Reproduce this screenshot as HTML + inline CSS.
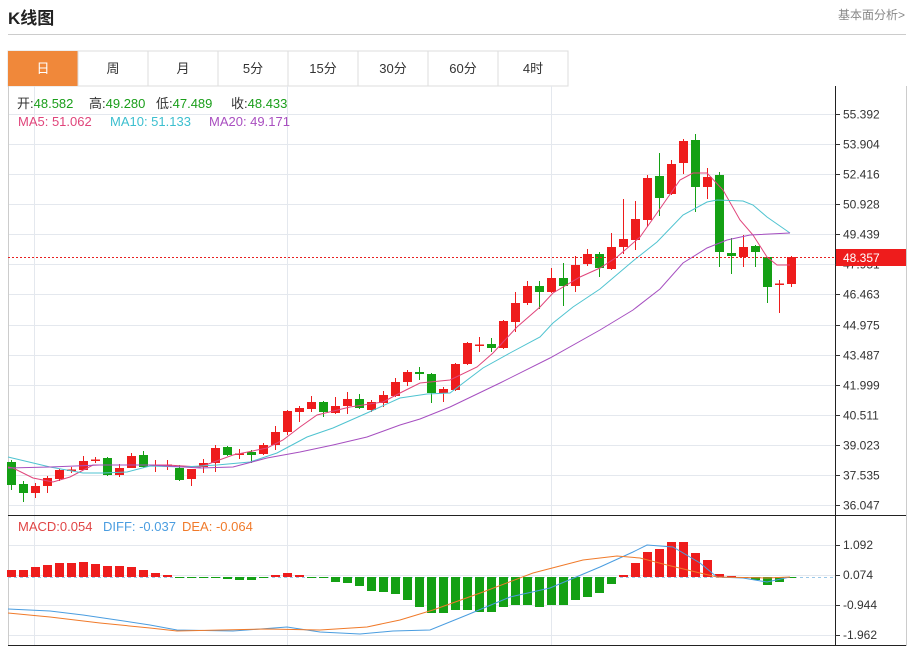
<!DOCTYPE html>
<html><head><meta charset="utf-8"><style>
body{margin:0;width:912px;height:649px;background:#fff;font-family:"Liberation Sans","Noto Sans CJK SC",sans-serif;overflow:hidden;position:relative}
.t{position:absolute;white-space:nowrap}
</style></head><body>
<div class="t" style="left:8px;top:4px;font-size:17px;font-weight:bold;color:#222">K线图</div>
<div class="t" style="left:838px;top:6px;font-size:12px;color:#888">基本面分析&gt;</div>
<div style="position:absolute;left:8px;top:34px;width:898px;height:1px;background:#ccc"></div>
<svg width="912" height="649" style="position:absolute;left:0;top:0" id="s" font-family="Liberation Sans, Noto Sans CJK SC, sans-serif">
<rect x="8" y="51" width="560" height="35" fill="#fff" stroke="#ddd"/>
<rect x="8" y="51" width="70" height="35" fill="#f0883a"/>
<g stroke="#ddd"><line x1="78" y1="51" x2="78" y2="86"/><line x1="148" y1="51" x2="148" y2="86"/><line x1="218" y1="51" x2="218" y2="86"/><line x1="288" y1="51" x2="288" y2="86"/><line x1="358" y1="51" x2="358" y2="86"/><line x1="428" y1="51" x2="428" y2="86"/><line x1="498" y1="51" x2="498" y2="86"/><line x1="568" y1="51" x2="568" y2="86"/></g>
<g font-size="13" text-anchor="middle" fill="#333"><text x="43" y="73" fill="#fff">日</text><text x="113" y="73">周</text><text x="183" y="73">月</text><text x="253" y="73">5分</text><text x="323" y="73">15分</text><text x="393" y="73">30分</text><text x="463" y="73">60分</text><text x="533" y="73">4时</text></g>
<g stroke="#e4e8ee" stroke-width="1" id="grid"></g>
<line x1="8.5" y1="86" x2="8.5" y2="646" stroke="#ccc"/>
<line x1="906.5" y1="86" x2="906.5" y2="646" stroke="#ccc"/>
<line x1="835.5" y1="86" x2="835.5" y2="646" stroke="#222"/>
<line x1="8" y1="515.5" x2="906" y2="515.5" stroke="#222"/>
<line x1="8" y1="645.5" x2="906" y2="645.5" stroke="#222"/>
<line x1="8" y1="577.5" x2="835" y2="577.5" stroke="#9cc8e8" stroke-dasharray="3,3"/>
<g id="bars"></g>
<g id="cand"></g>
<polyline fill="none" stroke="#e0457b" stroke-width="1" points="8,467 13,468 33,478 53,482 70,477 93,465 133,465 167,465 200,467 233,455 267,448 283,440 300,427 317,415 350,407 383,402 400,393 420,383 450,380 477,367 493,353 517,327 540,307 553,293 580,277 600,268 617,257 640,237 657,213 680,180 693,173 707,173 723,190 740,220 753,235 767,257 777,265 790,265"/>
<polyline fill="none" stroke="#4fc3d0" stroke-width="1" points="8,457 50,467 83,473 103,473 127,472 150,466 183,467 217,465 250,462 277,453 307,437 333,428 367,413 400,398 427,394 450,393 483,368 510,353 540,337 553,323 573,307 600,289 633,261 657,242 683,215 707,202 717,200 743,201 753,205 767,217 790,233"/>
<polyline fill="none" stroke="#a64fc0" stroke-width="1" points="8,468 50,467 100,465 150,465 200,468 233,467 267,458 300,452 333,445 367,437 400,425 420,419 450,407 500,383 550,358 600,330 633,310 660,289 683,263 707,248 727,240 750,235 790,233"/>
<polyline fill="none" stroke="#4a9de0" stroke-width="1" points="8,609 50,611 83,615 117,620 150,625 177,630 233,631 287,627 320,632 360,634 393,631 430,630 467,615 510,597 550,588 600,567 633,552 647,545 673,547 700,563 717,577 743,578 767,582 790,577"/>
<polyline fill="none" stroke="#f07a2a" stroke-width="1" points="8,613 50,617 100,623 150,628 177,631 267,629 320,630 367,627 400,620 433,610 483,592 533,573 583,560 617,556 640,558 667,565 700,573 717,577 767,578 790,577"/>
<line x1="8" y1="257.5" x2="835" y2="257.5" stroke="#e82020" stroke-dasharray="2,2"/>
<g font-size="12" fill="#333" id="ax"></g>
<rect x="836" y="249" width="70" height="17" fill="#ee1c1c"/>
<text x="843" y="262" font-size="12" fill="#fff">48.357</text>
<g font-size="13">
<text x="17" y="108" fill="#333">开:<tspan fill="#1a9e1a">48.582</tspan></text>
<text x="89" y="108" fill="#333">高:<tspan fill="#1a9e1a">49.280</tspan></text>
<text x="156" y="108" fill="#333">低:<tspan fill="#1a9e1a">47.489</tspan></text>
<text x="231" y="108" fill="#333">收:<tspan fill="#1a9e1a">48.433</tspan></text>
<text x="18" y="126" fill="#e0457b">MA5: 51.062</text><text x="110" y="126" fill="#3cbfcf">MA10: 51.133</text><text x="209" y="126" fill="#a94fc0">MA20: 49.171</text>
<text x="18" y="531" fill="#e04545">MACD:0.054</text><text x="103" y="531" fill="#4a9de0">DIFF: -0.037</text><text x="182" y="531" fill="#f07a2a">DEA: -0.064</text></g>
</svg>
<script>
var NS="http://www.w3.org/2000/svg";
function el(p,t,a){var e=document.createElementNS(NS,t);for(var k in a)e.setAttribute(k,a[k]);document.getElementById(p).appendChild(e);return e;}
var plabels=["55.392","53.904","52.416","50.928","49.439","47.951","46.463","44.975","43.487","41.999","40.511","39.023","37.535","36.047"];
for(var i=0;i<14;i++){var y=Math.round(114+i*30.08)+0.5;el("grid","line",{x1:8,y1:y,x2:835,y2:y});el("ax","line",{x1:835,y1:y,x2:840,y2:y,stroke:"#333"});el("ax","text",{x:843,y:y+4}).textContent=plabels[i];}
var ml=[[545,"1.092"],[575,"0.074"],[605,"-0.944"],[635,"-1.962"]];
ml.forEach(function(m){el("grid","line",{x1:8,y1:m[0]+.5,x2:835,y2:m[0]+.5});el("ax","line",{x1:835,y1:m[0]+.5,x2:840,y2:m[0]+.5,stroke:"#333"});el("ax","text",{x:843,y:m[0]+4}).textContent=m[1];});
[34,287,551].forEach(function(x){el("grid","line",{x1:x+.5,y1:86,x2:x+.5,y2:645});});
var C=[["g",462,485,460,490],["g",484,493,481,502],["r",493,486,483,498],["r",486,478,476,493],["r",479,470,469,481],["r",470.5,469.5,467,473],["r",470,461,456,470],["r",460.5,459.5,457,463],["g",458,475,457,476],["r",475,468,464,477],["r",468,456,453,468],["g",455,467,451,468],["r",465.5,464.5,460,472],["r",465.5,464.5,460,470],["g",468,480,465,481],["r",479,469,469,486],["r",467,463,459,473],["r",463,448,445,472],["g",447,455,446,456],["r",454.5,453.5,449,459],["g",452,455,450,463],["r",454,445,443,455],["r",445,432,426,450],["r",432,411,410,435],["r",412,408,406,422],["r",409,402,396,412],["g",402,412,401,417],["r",413,406,397,414],["r",406,399,392,414],["g",399,408,394,409],["r",410,402,400,412],["r",403,395,391,407],["r",396,382,378,397],["r",382,372,370,386],["g",372,374,367,380],["g",374,393,373,403],["r",393,389,387,402],["r",390,364,363,391],["r",364,343,342,365],["r",345.5,344.5,337,352],["g",344,348,338,352],["r",348,321,320,349],["r",322,303,292,332],["r",303,286,281,305],["g",286,292,281,309],["r",292,278,268,293],["g",278,286,263,306],["r",286,265,256,292],["r",264,254,249,266],["g",254,268,252,277],["r",269,247,233,270],["r",247,239,199,254],["r",240,219,201,250],["r",220,178,175,227],["g",176,198,153,216],["r",194,164,160,195],["r",163,141,139,174],["g",140,187,134,212],["r",187,177,168,199],["g",175,252,172,267],["g",253,256,238,274],["r",257,247,235,267],["g",246,252,245,267],["g",257,287,257,303],["r",284.5,283.5,280,313],["r",284,257,256,287]];
C.forEach(function(c,i){var x=11+12*i,col=c[0]=="r"?"#ee1c1c":"#14a014";var top=Math.min(c[1],c[2]),h=Math.max(Math.abs(c[1]-c[2]),1.5);
el("cand","line",{x1:x+.5,y1:c[3],x2:x+.5,y2:c[4],stroke:col});el("cand","rect",{x:x-4,y:top,width:9,height:h,fill:col});});
var M=[570,570,567,565,563,563,562,564,566,566,567,570,573,575,578,578,578,578,579,580,580,578,575,573,575,577,577,582,583,586,591,592,594,600,607,613,613,610,610,612,612,607,605,605,607,605,605,600,597,593,584,575,563,552,549,542,542,553,560,574,576,578,580,585,582,578];
M.forEach(function(v,i){var x=11+12*i,z=577;var col=v<z?"#ee1c1c":"#14a014";var y=Math.min(v,z),h=Math.max(Math.abs(v-z),1);el("bars","rect",{x:x-4,y:y,width:9,height:h,fill:col});});
</script>
</body></html>
